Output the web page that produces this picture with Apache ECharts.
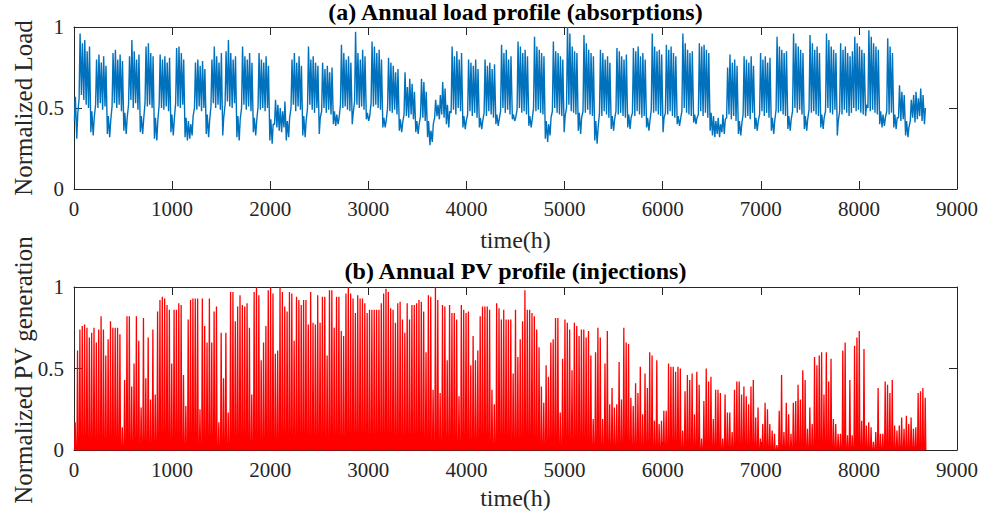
<!DOCTYPE html>
<html><head><meta charset="utf-8">
<script src="https://cdn.jsdelivr.net/npm/echarts@6/dist/echarts.min.js"></script>
<style>html,body{margin:0;padding:0;background:#fff}#c{width:984px;height:517px}</style>
</head><body><div id="c"></div>
<script>
// Daily load peaks / troughs (x100), one value per day
const loadPeak = [
57,46,
96,90,92,85,88,48,44,
80,83,78,82,76,45,42,
84,86,80,83,79,47,44,
82,92,85,80,83,45,43,
88,90,84,82,44,42,
83,80,82,78,81,46,43,
87,88,84,80,44,42,40,45,
78,80,76,79,74,46,42,
80,88,82,78,84,44,
85,92,84,80,82,45,43,
88,82,80,84,78,44,42,
84,80,78,82,76,43,40,
55,52,50,48,54,42,44,
80,84,78,82,76,45,42,
88,80,82,78,76,44,
78,74,76,72,75,48,46,44,
89,84,80,82,78,47,
97,84,80,86,82,47,45,
91,88,84,86,80,44,42,
81,78,76,72,74,43,41,
72,63,68,65,60,42,40,
68,66,60,42,36,40,
55,52,58,66,62,52,48,
88,82,85,80,84,45,42,
80,78,76,80,74,44,42,
80,76,78,74,77,46,43,
89,84,86,80,82,46,44,
91,88,84,86,82,45,43,
94,88,86,84,82,42,40,44,
91,85,84,82,80,45,
100,96,88,85,84,47,44,
95,90,86,84,82,42,38,
86,84,80,82,78,45,43,
87,85,82,80,83,46,44,
87,85,88,82,84,80,44,42,
96,88,85,86,83,44,
89,86,88,84,82,45,43,
96,90,86,84,85,46,44,
90,88,89,86,84,
47,45,42,44,40,46,43,
75,83,78,80,76,42,40,
82,80,78,82,76,44,42,
84,80,82,78,81,44,42,
94,88,86,84,85,45,43,
96,90,88,86,84,45,43,
95,90,86,88,84,46,44,
96,92,88,86,84,42,
90,86,88,84,82,85,
94,90,88,86,84,52,
98,94,90,88,86,48,46,44,
93,88,84,46,44,
64,60,58,42,38,
55,58,60,56,62,58,50
];
const loadTrough = [
42,31,
56,58,55,52,50,35,33,
52,50,53,49,51,34,32,
51,53,50,52,48,36,34,
52,55,50,53,49,35,34,
53,51,52,50,31,30,
52,50,49,51,48,35,33,
53,51,50,52,32,30,31,33,
50,49,51,48,50,34,32,
51,53,50,52,49,33,
52,54,51,50,53,32,30,
50,52,49,51,48,35,33,
51,49,50,48,50,30,28,
40,38,36,35,38,30,32,
50,52,48,51,49,33,32,
50,52,49,47,50,34,
48,50,47,49,46,40,39,40,
52,50,51,49,48,40,
54,52,50,51,49,43,42,
53,51,52,50,49,38,38,
50,48,47,49,46,36,35,
46,45,44,46,43,35,34,
45,44,42,32,27,29,
44,45,43,46,44,40,38,
47,49,46,50,48,38,37,
46,48,45,47,44,38,37,
47,45,48,46,44,40,39,
48,50,47,49,46,43,42,
49,50,47,48,46,39,38,
50,48,49,47,46,31,29,33,
48,50,47,46,45,35,
50,52,48,47,46,36,34,
48,47,49,46,45,30,28,
47,45,48,46,44,37,36,
48,46,47,45,44,38,37,
47,45,48,46,44,45,38,36,
49,47,48,46,45,35,
47,46,48,45,44,40,39,
48,50,47,46,45,41,40,
46,48,45,47,44,
36,33,32,34,32,35,34,
44,46,43,45,42,34,33,
46,44,45,43,47,37,36,
46,48,45,47,44,36,34,
49,47,48,46,45,37,36,
48,50,47,49,46,37,36,
49,47,48,46,45,38,37,
48,50,47,46,49,33,
48,46,49,47,45,47,
50,48,49,47,46,45,
50,48,49,47,46,40,38,39,
48,46,47,38,37,
44,42,43,33,32,
42,44,41,43,45,42,40
];
// Daily PV peak (normalized)
const pvPeak = [
0.17,0.61,0.74,0.76,0.77,0.75,0.69,0.72,0.75,0.66,
0.74,0.82,0.74,0.58,0.68,0.79,0.75,0.75,0.75,0.71,
0.14,0.43,0.82,0.82,0.39,0.53,0.82,0.67,0.26,0.81,
0.44,0.69,0.31,0.74,0.34,0.85,0.92,0.94,0.93,0.89,
0.86,0.53,0.86,0.86,0.90,0.89,0.46,0.27,0.80,0.92,
0.93,0.93,0.93,0.25,0.93,0.76,0.66,0.93,0.66,0.85,
0.88,0.17,0.72,0.44,0.72,0.23,0.97,0.97,0.79,0.88,
0.95,0.89,0.88,0.90,0.75,0.34,0.97,1.00,0.95,0.55,
0.66,0.76,0.98,1.00,0.96,0.59,0.61,1.00,0.97,0.88,
0.85,0.97,
0.96,0.67,0.94,0.92,0.89,0.92,0.92,0.77,0.97,0.78,
0.77,0.95,0.78,0.94,0.94,0.58,0.98,0.98,0.75,0.94,
0.94,0.73,0.70,0.96,1.00,0.96,0.93,0.84,0.95,0.93,
0.93,0.90,0.84,0.86,0.86,0.86,0.86,0.86,0.90,0.96,
0.99,0.97,0.87,0.86,0.78,0.90,0.91,0.80,0.72,0.90,
0.80,0.89,0.89,0.90,0.92,0.91,0.85,0.60,0.95,0.94,
0.37,1.00,0.92,0.35,0.89,0.88,0.55,0.89,0.84,0.84,
0.80,0.33,0.89,0.86,0.84,0.85,0.52,0.70,0.55,0.61,
0.82,0.88,0.88,0.88,0.86,0.37,0.28,0.90,0.87,0.80,
0.86,0.80,0.80,0.80,0.47,0.86,0.57,0.68,0.79,0.98,
0.86,0.86,0.84,0.82,
0.74,0.63,0.39,0.29,0.52,0.45,0.66,0.68,0.81,0.81,
0.23,0.56,0.80,0.78,0.74,0.49,0.78,0.76,0.70,0.74,
0.74,0.69,0.73,0.58,0.19,0.60,0.75,0.69,0.19,0.53,
0.73,0.28,0.38,0.26,0.28,0.54,0.31,0.75,0.66,0.65,
0.32,0.27,0.41,0.35,0.51,0.22,0.47,0.38,0.60,0.58,
0.18,0.55,0.16,0.18,0.24,0.24,0.53,0.51,0.51,0.48,
0.51,0.50,0.12,0.36,0.46,0.43,0.47,0.22,0.48,0.40,
0.07,0.30,0.50,0.42,0.45,0.19,0.37,0.37,0.35,0.07,
0.34,0.23,0.23,0.11,0.37,0.42,0.42,0.34,0.39,
0.33,0.28,0.39,0.43,0.20,0.26,0.07,0.16,0.29,0.25,
0.16,0.12,0.10,0.03,0.24,0.46,0.11,0.29,0.22,0.10,
0.29,0.30,0.40,0.31,0.49,0.43,0.13,0.26,0.16,0.57,
0.52,0.58,0.60,0.34,0.60,0.42,0.56,0.19,0.16,0.10,
0.10,0.61,0.66,0.09,0.43,0.09,0.64,0.69,0.73,0.18,
0.62,0.15,0.17,0.14,0.05,0.11,0.38,0.10,0.10,0.42,
0.40,0.35,0.43,0.15,0.12,0.15,0.20,0.13,0.21,0.16,
0.20,0.13,0.14,0.35,0.36,0.38,0.32
];
const xTicks = [0,1000,2000,3000,4000,5000,6000,7000,8000,9000];
const yTicks = [0,0.5,1];
const titles = ['(a) Annual load profile (absorptions)','(b) Annual PV profile (injections)'];
const xName = 'time(h)';
const yNames = ['Normalized Load','Normalized PV generation'];

const HOURS = 24;
const loadData = [];
const nL = Math.min(loadPeak.length, loadTrough.length);
for (let d = 0; d < nL; d++) {
  loadData.push([d*HOURS+4, loadTrough[d]/100]);
  loadData.push([d*HOURS+14, loadPeak[d]/100]);
}
const pvData = [];
for (let d = 0; d < pvPeak.length; d++) {
  pvData.push([d*HOURS+6, 0]);
  pvData.push([d*HOURS+12, pvPeak[d]]);
  pvData.push([d*HOURS+18, 0]);
}

const FONT = 'Liberation Serif';
const AX = '#262626';
const gridL = 74, gridW = 883;
const grids = [{top:27,height:162},{top:287,height:163}];

function xAx(g, pos){
  return {gridIndex:g, type:'value', position:pos, min:xTicks[0], max:xTicks[xTicks.length-1],
    interval:xTicks[1]-xTicks[0],
    axisLine:{show:true, onZero:false, lineStyle:{color:AX,width:1}},
    axisTick:{show:true, inside:true, length:8, lineStyle:{color:AX}},
    splitLine:{show:false},
    axisLabel:{show:pos==='bottom', margin:9, color:AX, fontFamily:FONT, fontSize:21, formatter:v=>String(v)}};
}
function yAx(g, pos){
  return {gridIndex:g, type:'value', position:pos, min:yTicks[0], max:yTicks[yTicks.length-1],
    interval:yTicks[1]-yTicks[0],
    axisLine:{show:true, onZero:false, lineStyle:{color:AX,width:1}},
    axisTick:{show:true, inside:true, length:8, lineStyle:{color:AX}},
    splitLine:{show:false},
    axisLabel:{show:pos==='left', margin:10, color:AX, fontFamily:FONT, fontSize:21, formatter:v=>String(v)}};
}

const cx = gridL + gridW/2;
const chart = echarts.init(document.getElementById('c'), null, {renderer:'svg'});
chart.setOption({
  animation:false,
  backgroundColor:'#fff',
  grid: grids.map(g=>({left:gridL, width:gridW, top:g.top, height:g.height})),
  xAxis:[xAx(0,'bottom'), xAx(0,'top'), xAx(1,'bottom'), xAx(1,'top')],
  yAxis:[yAx(0,'left'), yAx(0,'right'), yAx(1,'left'), yAx(1,'right')],
  graphic:[
    {type:'text', x:cx, y:12, style:{text:titles[0], textAlign:'center', textVerticalAlign:'middle', font:'bold 24px "'+FONT+'"', fill:'#000'}},
    {type:'text', x:cx, y:271, style:{text:titles[1], textAlign:'center', textVerticalAlign:'middle', font:'bold 24px "'+FONT+'"', fill:'#000'}},
    {type:'text', x:cx, y:240, style:{text:xName, textAlign:'center', textVerticalAlign:'middle', font:'24px "'+FONT+'"', fill:AX}},
    {type:'text', x:cx, y:498, style:{text:xName, textAlign:'center', textVerticalAlign:'middle', font:'24px "'+FONT+'"', fill:AX}},
    {type:'text', x:23, y:108, rotation:Math.PI/2, style:{text:yNames[0], textAlign:'center', textVerticalAlign:'middle', font:'25px "'+FONT+'"', fill:AX}},
    {type:'text', x:23, y:370, rotation:Math.PI/2, style:{text:yNames[1], textAlign:'center', textVerticalAlign:'middle', font:'25px "'+FONT+'"', fill:AX}}
  ],
  series:[
    {type:'line', xAxisIndex:0, yAxisIndex:0, data:loadData, showSymbol:false, symbol:'none',
     lineStyle:{color:'#0072BD', width:1.4}, z:2},
    {type:'line', xAxisIndex:2, yAxisIndex:2, data:pvData, showSymbol:false, symbol:'none',
     lineStyle:{color:'#FF0000', width:1.3}, z:2}
  ]
});
</script></body></html>
